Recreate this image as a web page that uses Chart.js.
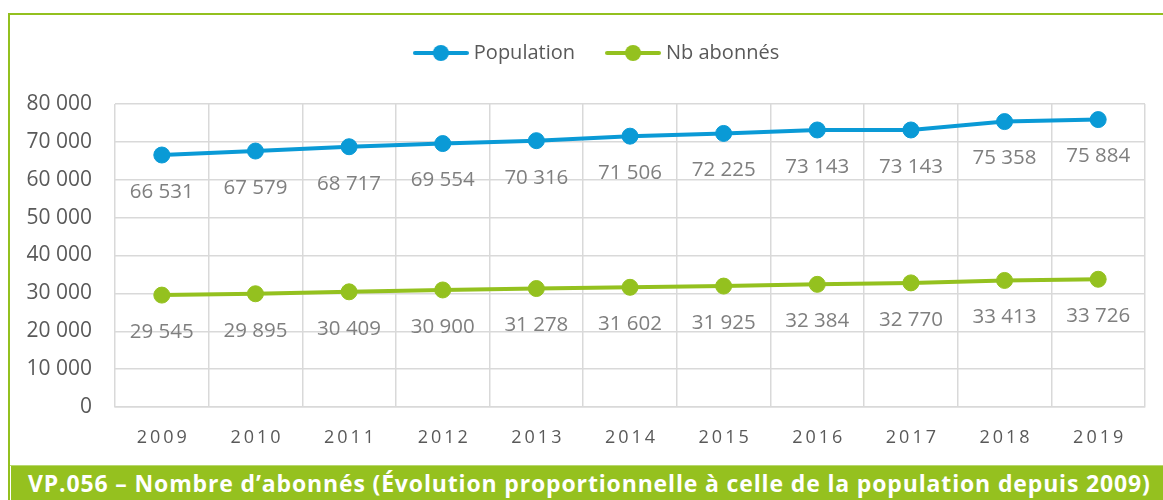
<!DOCTYPE html>
<html>
<head>
<meta charset="utf-8">
<script src="https://cdn.jsdelivr.net/npm/chart.js@4"></script>
<style>
  body { margin: 0; background: #fff; width: 1163px; height: 500px; position: relative; overflow: hidden; font-family: "Open Sans", sans-serif; }
  .frame { position: absolute; left: 8px; top: 13px; width: 1160px; height: 450px; border-left: 2px solid #93c01f; border-top: 2px solid #93c01f; border-bottom: 1px solid #b8d86e; }
  .chart-box { position: absolute; left: 10px; top: 15px; width: 1153px; height: 448px; }
  .title-bar { position: absolute; left: 11px; top: 466px; width: 1152px; height: 34px; background: #95c11f; color: #fff; font-weight: bold; font-size: 23px; letter-spacing: 0.85px; line-height: 34px; padding-left: 17px; box-sizing: border-box; white-space: nowrap; }
  .left-line { position: absolute; left: 8px; top: 463px; width: 2px; height: 37px; background: #93c01f; }
</style>
</head>
<body>
<div class="frame"></div>
<div class="left-line"></div>
<div class="chart-box"><canvas id="myChart" width="1153" height="448"></canvas></div>
<div class="title-bar">VP.056 – Nombre d’abonnés (Évolution proportionnelle à celle de la population depuis 2009)</div>

<script>
const years = ['2009', '2010', '2011', '2012', '2013', '2014', '2015', '2016', '2017', '2018', '2019'];
const population = [66531, 67579, 68717, 69554, 70316, 71506, 72225, 73143, 73143, 75358, 75884];
const abonnes = [29545, 29895, 30409, 30900, 31278, 31602, 31925, 32384, 32770, 33413, 33726];
const yTicks = [0, 10000, 20000, 30000, 40000, 50000, 60000, 70000, 80000];

const blue = '#0a9ad6';
const green = '#94c11f';
const textGrey = '#595959';
const fontName = 'Open Sans';

const fmt = (v) => v.toString().replace(/\B(?=(\d{3})+(?!\d))/g, ' ');

// legend marker: short line with a dot in the middle
const legendMarker = (color) => {
    const c = document.createElement('canvas');
    c.width = 56;
    c.height = 18;
    const ctx = c.getContext('2d');
    ctx.strokeStyle = color;
    ctx.lineWidth = 4;
    ctx.lineCap = 'round';
    ctx.beginPath();
    ctx.moveTo(2, 9);
    ctx.lineTo(54, 9);
    ctx.stroke();
    ctx.fillStyle = color;
    ctx.beginPath();
    ctx.arc(28, 9, 8, 0, Math.PI * 2);
    ctx.fill();
    return c;
};

const valueLabels = {
    id: 'valueLabels',
    afterInit: (chart) => {
        // more room under the legend, and nudge it a bit to the right
        const legend = chart.legend;
        const fit = legend.fit;
        legend.fit = function () {
            fit.call(this);
            this.height += 31;
        };
        const draw = legend.draw;
        legend.draw = function () {
            chart.ctx.save();
            chart.ctx.translate(21, 0);
            draw.apply(this, arguments);
            chart.ctx.restore();
        };
    },
    afterDatasetsDraw: (chart) => {
        const ctx = chart.ctx;
        ctx.save();
        ctx.font = '20.5px "' + fontName + '"';
        ctx.fillStyle = '#7f7f7f';
        ctx.textAlign = 'center';
        ctx.textBaseline = 'middle';
        chart.data.datasets.forEach((ds, i) => {
            chart.getDatasetMeta(i).data.forEach((pt, j) => {
                ctx.fillText(fmt(ds.data[j]), pt.x, pt.y + 37);
            });
        });
        ctx.restore();
    }
};

const ctx = document.getElementById('myChart').getContext('2d');

new Chart(ctx, {
    type: 'line',
    data: {
        labels: years,
        datasets: [
            {
                label: 'Population',
                data: population,
                borderColor: blue,
                backgroundColor: blue,
                borderWidth: 4,
                pointRadius: 8,
                pointBorderWidth: 1,
                legendMarker: legendMarker(blue)
            },
            {
                label: 'Nb abonnés',
                data: abonnes,
                borderColor: green,
                backgroundColor: green,
                borderWidth: 4,
                pointRadius: 8,
                pointBorderWidth: 1,
                legendMarker: legendMarker(green)
            }
        ]
    },
    options: {
        responsive: false,
        animation: false,
        layout: { padding: { top: -7, right: 18, left: 0, bottom: 0 } },
        plugins: {
            tooltip: { enabled: false },
            legend: {
                position: 'top',
                labels: {
                    color: textGrey,
                    font: { family: fontName, size: 20 },
                    usePointStyle: true,
                    pointStyleWidth: 46,
                    padding: 35,
                    generateLabels: (chart) => chart.data.datasets.map((ds, i) => ({
                        text: ds.label,
                        fontColor: textGrey,
                        pointStyle: ds.legendMarker,
                        datasetIndex: i,
                        hidden: false,
                        lineWidth: 0
                    }))
                }
            }
        },
        scales: {
            x: {
                offset: true,
                grid: { offset: true, color: '#d9d9d9', lineWidth: 1.5, drawTicks: false },
                border: { color: '#d9d9d9', width: 1.5 },
                ticks: {
                    color: textGrey,
                    padding: 20,
                    font: { family: fontName, size: 18 },
                    callback: function (v) { return this.getLabelForValue(v).split('').join('\u2009'); }
                },
                afterFit: (scale) => { scale.height = 56; }
            },
            y: {
                min: 0,
                max: 80000,
                afterBuildTicks: (scale) => { scale.ticks = yTicks.map((v) => ({ value: v })); },
                grid: { color: '#d9d9d9', lineWidth: 1.5, drawTicks: false },
                border: { display: false },
                ticks: {
                    color: textGrey,
                    padding: 23,
                    font: { family: fontName, size: 21 },
                    callback: (v) => fmt(v)
                },
                afterFit: (scale) => { scale.width = 105; }
            }
        }
    },
    plugins: [valueLabels]
});
</script>
</body>
</html>
